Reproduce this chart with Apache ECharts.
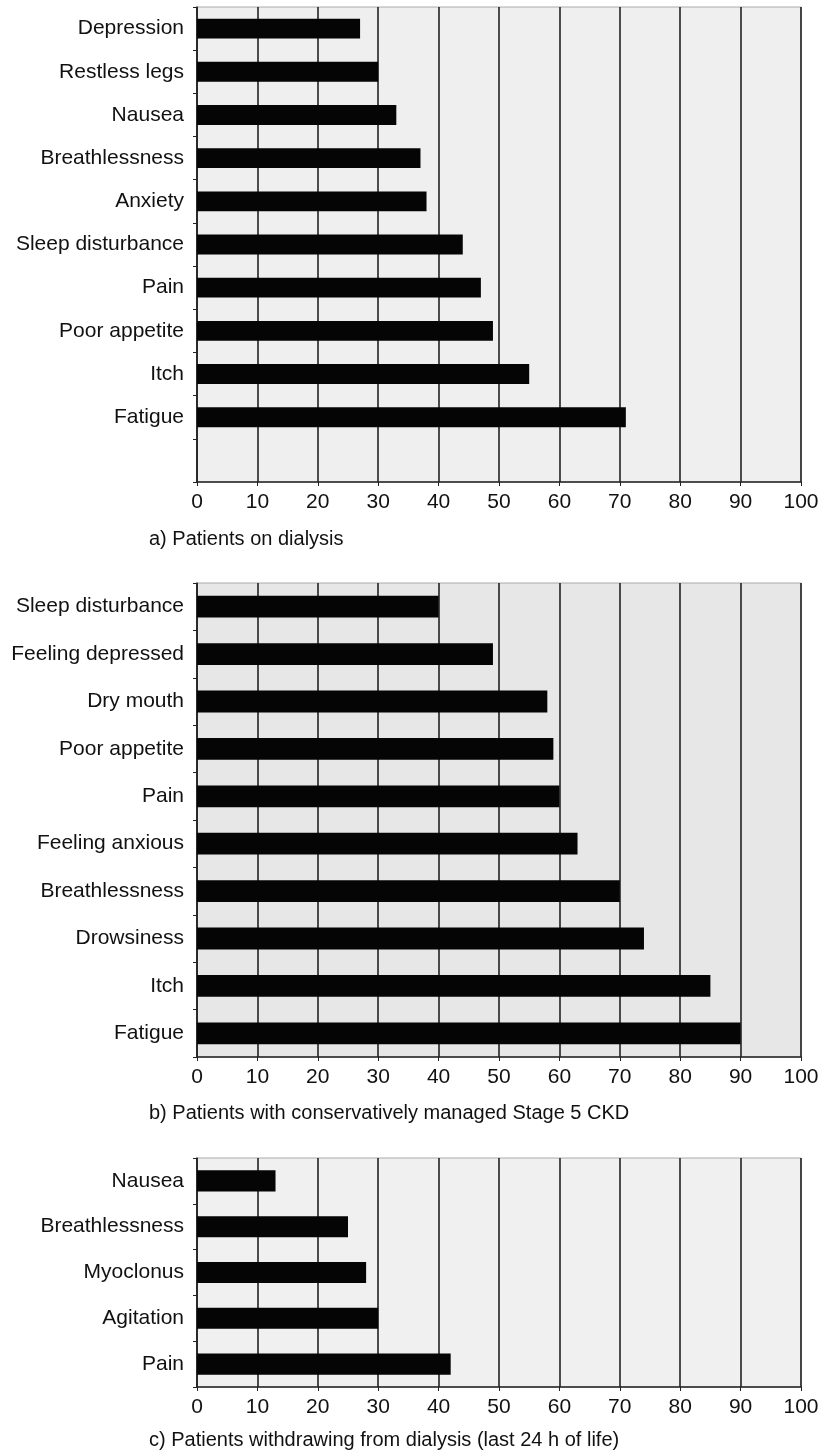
<!DOCTYPE html>
<html>
<head>
<meta charset="utf-8">
<script src="https://cdn.jsdelivr.net/npm/echarts@6/dist/echarts.min.js"></script>
<style>
  html, body { margin: 0; padding: 0; background: #fff; }
  #chart { width: 826px; height: 1456px; }
</style>
</head>
<body>
<div id="chart"></div>
<script>
// --- a) patients on dialysis (last category left empty, as in the figure) ---
const catsA = ['Depression', 'Restless legs', 'Nausea', 'Breathlessness', 'Anxiety',
  'Sleep disturbance', 'Pain', 'Poor appetite', 'Itch', 'Fatigue', ''];
const valsA = [27, 30, 33, 37, 38, 44, 47, 49, 55, 71, null];

// --- b) conservatively managed stage 5 CKD ---
const catsB = ['Sleep disturbance', 'Feeling depressed', 'Dry mouth', 'Poor appetite', 'Pain',
  'Feeling anxious', 'Breathlessness', 'Drowsiness', 'Itch', 'Fatigue'];
const valsB = [40, 49, 58, 59, 60, 63, 70, 74, 85, 90];

// --- c) withdrawing from dialysis ---
const catsC = ['Nausea', 'Breathlessness', 'Myoclonus', 'Agitation', 'Pain'];
const valsC = [13, 25, 28, 30, 42];

const captions = [
  'a) Patients on dialysis',
  'b) Patients with conservatively managed Stage 5 CKD',
  'c) Patients withdrawing from dialysis (last 24 h of life)'
];

const FONT = '"Liberation Sans", Arial, sans-serif';

// pixel layout of the three panels
const grids = [
  { left: 197, width: 604, top: 7, height: 475, backgroundColor: '#efefef' },
  { left: 197, width: 604, top: 583, height: 474, backgroundColor: '#e7e7e7' },
  { left: 197, width: 604, top: 1158, height: 229, backgroundColor: '#f0f0f0' }
];

function xAxisFor(i) {
  return {
    type: 'value', gridIndex: i, min: 0, max: 100, interval: 10,
    axisLine: { show: true, lineStyle: { color: '#222', width: 1.5 } },
    axisTick: { show: true, length: 4, lineStyle: { color: '#222' } },
    axisLabel: { color: '#111', fontFamily: FONT, fontSize: 21, margin: 10 },
    splitLine: { show: true, lineStyle: { color: '#222', width: 1.6 } }
  };
}

function yAxisFor(i, cats) {
  return {
    type: 'category', gridIndex: i, data: cats, inverse: true,
    axisLine: { show: true, lineStyle: { color: '#222', width: 1.5 } },
    axisTick: { show: true, length: 4, lineStyle: { color: '#222' } },
    axisLabel: { color: '#111', fontFamily: FONT, fontSize: 21, margin: 13 },
    splitLine: { show: false }
  };
}

function barSeries(i, vals) {
  return {
    type: 'bar', xAxisIndex: i, yAxisIndex: i, data: vals,
    barWidth: '46%', itemStyle: { color: '#050505' }, silent: true
  };
}

const chart = echarts.init(document.getElementById('chart'));

chart.setOption({
  backgroundColor: '#fff',
  animation: false,
  grid: grids.map(g => Object.assign({
    show: true, borderColor: '#aaa', borderWidth: 1
  }, g)),
  xAxis: [xAxisFor(0), xAxisFor(1), xAxisFor(2)],
  yAxis: [yAxisFor(0, catsA), yAxisFor(1, catsB), yAxisFor(2, catsC)],
  series: [barSeries(0, valsA), barSeries(1, valsB), barSeries(2, valsC)],
  graphic: [
    { type: 'text', left: 149, top: 529, style: { text: captions[0], font: '20px ' + FONT, fill: '#111' } },
    { type: 'text', left: 149, top: 1103, style: { text: captions[1], font: '20px ' + FONT, fill: '#111' } },
    { type: 'text', left: 149, top: 1430, style: { text: captions[2], font: '20px ' + FONT, fill: '#111' } }
  ]
});
</script>
</body>
</html>
